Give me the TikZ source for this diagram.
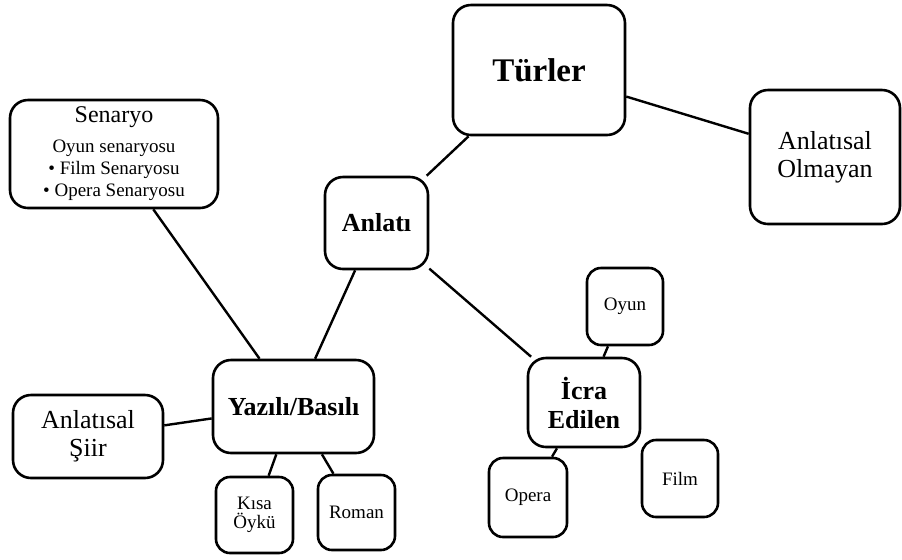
\documentclass[tikz,border=0pt]{standalone}
\usepackage{fontspec}
\setmainfont{Liberation Serif}
\usetikzlibrary{positioning}

\begin{document}
\begin{tikzpicture}[x=0.5pt, y=-0.5pt,
    box/.style={draw, line width=1.3pt, rounded corners=9pt,
                align=center, inner sep=0pt},
    mainbox/.style={box, font=\bfseries\fontsize{13}{14.5}\selectfont},
    leafbox/.style={box, rounded corners=7pt, minimum width=38.5pt,
                    minimum height=38.5pt, font=\fontsize{9.5}{9.5}\selectfont},
    link/.style={line width=1.2pt}]
  \useasboundingbox (0,0) rectangle (902,559);

  % top level
  \node[box, minimum width=86pt, minimum height=65pt,
        font=\bfseries\fontsize{16.5}{18}\selectfont] (turler) at (539,70) {Türler};
  \node[box, minimum width=75pt, minimum height=67pt,
        font=\fontsize{13}{14}\selectfont] (olmayan) at (825,157) {Anlatısal\\Olmayan};
  \node[mainbox, minimum width=51.5pt, minimum height=46pt] (anlati) at (376.5,223) {Anlatı};

  % written branch
  \node[mainbox, minimum width=80.5pt, minimum height=46.5pt] (yazili) at (293.5,406.5) {Yazılı/Basılı};
  \node[box, minimum width=104pt, minimum height=54pt,
        font=\fontsize{9.5}{11}\selectfont] (senaryo) at (114,154) {%
    {\fontsize{12}{12}\selectfont Senaryo}\\[4pt]
    Oyun senaryosu\\
    • Film Senaryosu\\
    • Opera Senaryosu};
  \node[box, minimum width=75pt, minimum height=41.5pt,
        font=\fontsize{13}{14}\selectfont] (siir) at (88,436.5) {Anlatısal\\Şiir};
  \node[leafbox, minimum height=38pt] (kisa) at (254.5,515) {Kısa\\Öykü};
  \node[leafbox, minimum height=37.5pt] (roman) at (356.5,512.5) {Roman};

  % performed branch
  \node[mainbox, minimum width=56pt, minimum height=44.5pt] (icra) at (584,402.5) {İcra\\Edilen};
  \node[leafbox, minimum width=38pt] (oyun) at (625,306.5) {Oyun};
  \node[leafbox, minimum width=38pt] (film) at (680,478.5) {Film};
  \node[leafbox, minimum width=39pt, minimum height=39.5pt] (opera) at (528,497.5) {Opera};

  % connectors
  \draw[link] (turler) -- (olmayan);
  \draw[link] (turler) -- (anlati);
  \draw[link] (anlati) -- (yazili);
  \draw[link] (anlati) -- (icra);
  \draw[link] (senaryo) -- (yazili);
  \draw[link] (siir) -- (yazili);
  \draw[link] (yazili) -- (kisa);
  \draw[link] (yazili) -- (roman);
  \draw[link] (icra) -- (oyun);
  \draw[link] (icra) -- (opera);
\end{tikzpicture}
\end{document}
